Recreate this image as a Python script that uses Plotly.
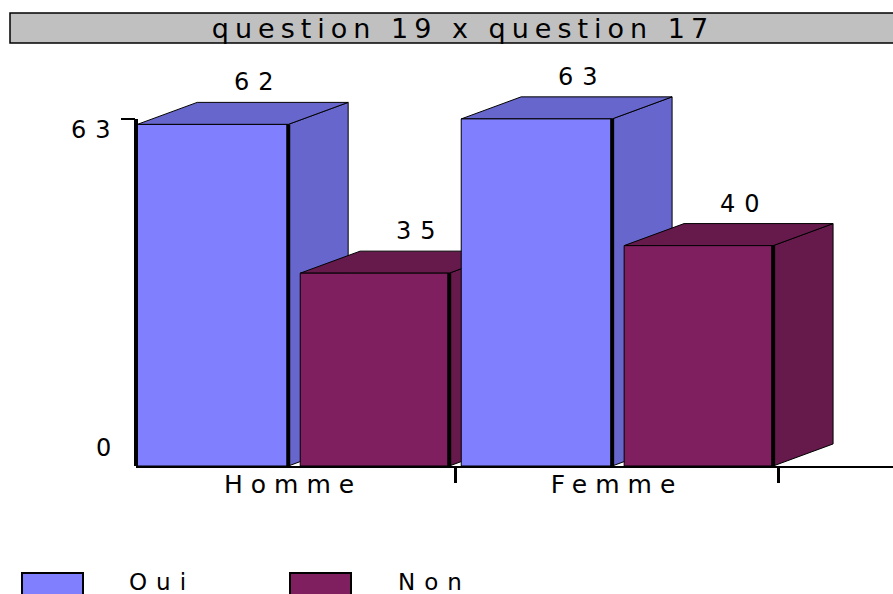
import plotly.graph_objects as go

# --- data -------------------------------------------------------------
categories = ["Homme", "Femme"]
series_names = ["Oui", "Non"]
oui_values = [62, 63]
non_values = [35, 40]
y_tick_values = [0, 63]
title_text = "question 19 x question 17"

# --- styling ----------------------------------------------------------
front_colors = {"Oui": "#8080FF", "Non": "#7F1F5F"}
shade_colors = {"Oui": "#6666CC", "Non": "#661A4C"}
bar_offset = {"Oui": -0.481, "Non": 0.022}
bar_width = {"Oui": 0.466, "Non": 0.46}
FONT = "DejaVu Sans"

W, H = 893, 594
M_L, M_R, M_T, M_B = 136, 0, 55, 128
X_RANGE = [-0.485, 1.852]
Y_RANGE = [0, 74.6]
DX, DY = 0.185, 4.0  # depth of the pseudo-3D extrusion, in axis units


def px_x(px):
    return (px - M_L) / (W - M_L - M_R)


def px_y(py):
    return (H - M_B - py) / (H - M_T - M_B)


def wide(text, spacing):
    """Wide-set lettering."""
    return f'<span style="letter-spacing:{spacing}px">{text}</span>'


fig = go.Figure()
series_values = {"Oui": oui_values, "Non": non_values}

for name in series_names:
    fig.add_bar(
        x=categories,
        y=series_values[name],
        name=name,
        offset=bar_offset[name],
        width=bar_width[name],
        marker=dict(color=front_colors[name], line=dict(color="black", width=1)),
        showlegend=False,
    )

shapes = []
annotations = []
NUM_SIZE, NUM_LS = 24, 9

# side and top faces, painted left to right so nearer faces overlap
for i, cat in enumerate(categories):
    for name in series_names:
        v = series_values[name][i]
        x0 = i + bar_offset[name]
        x1 = x0 + bar_width[name]
        side = (f"M {x1},0 L {x1},{v} L {x1 + DX},{v + DY} "
                f"L {x1 + DX},{DY} Z")
        top = (f"M {x0},{v} L {x1},{v} L {x1 + DX},{v + DY} "
               f"L {x0 + DX},{v + DY} Z")
        for path in (side, top):
            shapes.append(dict(type="path", path=path, xref="x", yref="y",
                               fillcolor=shade_colors[name],
                               line=dict(color="black", width=1),
                               layer="below"))
        # heavy front-right edge
        shapes.append(dict(type="line", xref="x", yref="y", x0=x1, x1=x1,
                           y0=0, y1=v, line=dict(color="black", width=4),
                           layer="above"))
        annotations.append(dict(x=x0 + bar_width[name] / 2 + DX / 2,
                                y=v + DY, xref="x", yref="y",
                                text=wide(str(v), NUM_LS),
                                showarrow=False, xshift=11 + NUM_LS / 2,
                                yshift=20,
                                font=dict(family=FONT, size=NUM_SIZE,
                                          color="black")))

# vertical axis line up to the top tick
shapes.append(dict(type="line", xref="x domain", yref="y", x0=0, x1=0,
                   y0=0, y1=max(y_tick_values),
                   line=dict(color="black", width=4), layer="above"))

# value-axis labels
for val, shift in zip(y_tick_values, [18, -11]):
    annotations.append(dict(x=0, y=val, xref="x domain", yref="y",
                            xanchor="right", xshift=-23 + NUM_LS, yshift=shift,
                            text=wide(str(val), NUM_LS), showarrow=False,
                            font=dict(family=FONT, size=NUM_SIZE,
                                      color="black")))

# title box
shapes.append(dict(type="rect", xref="paper", yref="paper",
                   x0=px_x(10), x1=px_x(905), y0=px_y(43), y1=px_y(13),
                   fillcolor="#C0C0C0", line=dict(color="black", width=1.5),
                   layer="below"))

# legend
legend_pos = {"Oui": (22, 127), "Non": (290, 396)}
for name in series_names:
    sx, tx = legend_pos[name]
    shapes.append(dict(type="rect", xref="paper", yref="paper",
                       x0=px_x(sx), x1=px_x(sx + 61),
                       y0=px_y(600), y1=px_y(573),
                       fillcolor=front_colors[name],
                       line=dict(color="black", width=2)))
    annotations.append(dict(x=px_x(tx), y=px_y(582), xref="paper",
                            yref="paper", xanchor="left", yanchor="middle",
                            text=wide(name, 9), showarrow=False,
                            font=dict(family=FONT, size=23, color="black")))

fig.update_layout(
    width=W, height=H,
    margin=dict(l=M_L, r=M_R, t=M_T, b=M_B),
    paper_bgcolor="white", plot_bgcolor="white",
    barmode="overlay",
    shapes=shapes,
    annotations=annotations,
    title=dict(text=wide(title_text, 6), x=463 / W, xref="container",
               xanchor="center", y=1 - 29 / H, yref="container",
               yanchor="middle",
               font=dict(family=FONT, size=27, color="black")),
    xaxis=dict(type="category", range=X_RANGE, tickson="boundaries",
               tickmode="array", tickvals=categories,
               ticktext=[wide(c, 8) for c in categories],
               ticks="outside", ticklen=15, tickwidth=2.5, tickcolor="black",
               showline=True, linewidth=2, linecolor="black", showgrid=False,
               ticklabelstandoff=-5,
               tickfont=dict(family=FONT, size=25, color="black")),
    yaxis=dict(range=Y_RANGE, tickvals=[max(y_tick_values)], ticks="outside",
               ticklen=14, tickwidth=1.5, tickcolor="black",
               showticklabels=False, showline=False, showgrid=False,
               zeroline=False),
)

fig.write_html("out.html")
